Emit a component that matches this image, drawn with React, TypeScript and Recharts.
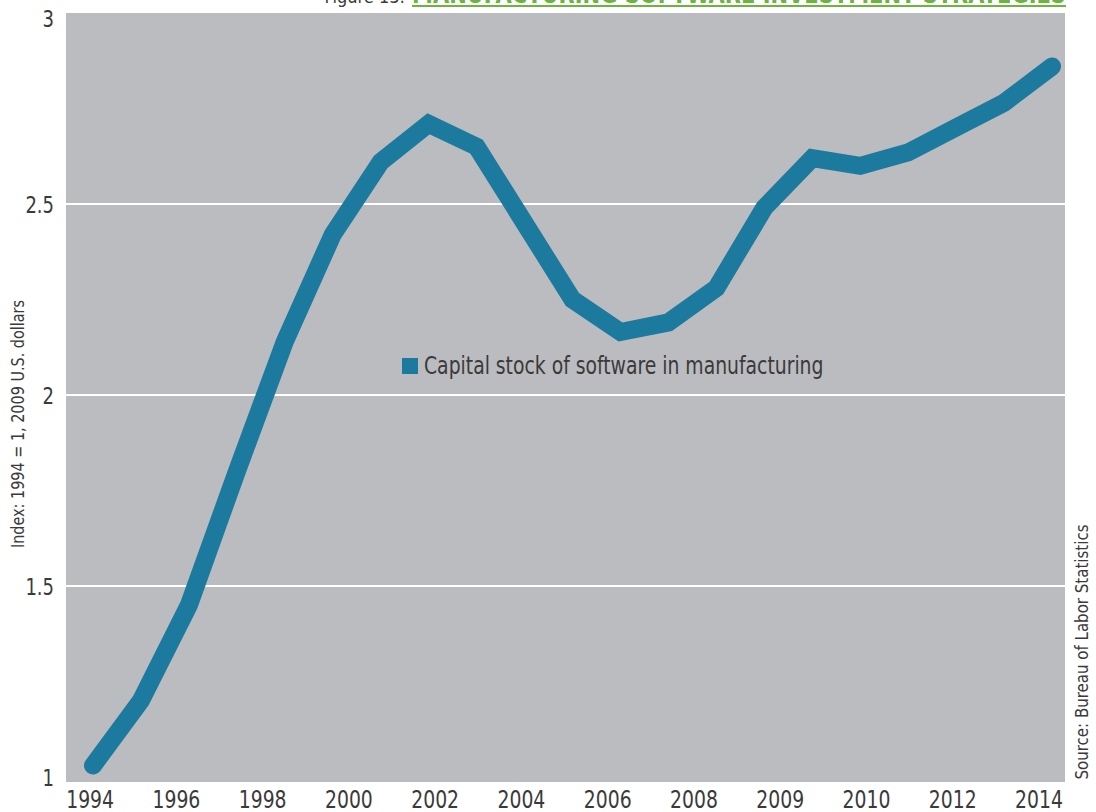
import React from "react";
import {
  LineChart,
  Line,
  XAxis,
  YAxis,
  CartesianGrid,
  Legend,
  Customized,
} from "recharts";

// Capital stock of software in manufacturing, index 1994 = 1
const years = [
  1994, 1995, 1996, 1997, 1998, 1999, 2000, 2001, 2002, 2003, 2004,
  2005, 2006, 2007, 2008, 2009, 2010, 2011, 2012, 2013, 2014,
];
const softwareIndex = [
  1.03, 1.2, 1.45, 1.8, 2.14, 2.42, 2.61, 2.71, 2.65, 2.45, 2.25,
  2.165, 2.19, 2.28, 2.49, 2.62, 2.6, 2.635, 2.7, 2.765, 2.86,
];
// the bottom labels as printed in the original (evenly spaced, not one per year)
const xTickLabels = [
  "1994", "1996", "1998", "2000", "2002", "2004",
  "2006", "2008", "2009", "2010", "2012", "2014",
];
const yTicks = [1, 1.5, 2, 2.5, 3];
const gridValues = [1.5, 2, 2.5];

const seriesName = "Capital stock of software in manufacturing";
const yTitle = "Index: 1994 = 1, 2009 U.S. dollars";
const sourceNote = "Source: Bureau of Labor Statistics";

const data = years.map((year, i) => ({ year, value: softwareIndex[i] }));

// label slots sit on their own even spacing along the year axis
const LABEL_START = 1993.94;
const LABEL_STEP = 1.799;
const labelPositions = xTickLabels.map((_, i) => LABEL_START + i * LABEL_STEP);

const FONT = '"Liberation Sans Narrow", "DejaVu Sans Condensed", sans-serif';
const BLUE = "#1d7a9f";
const TEXT = "#3a3a3a";
const SQUEEZE = 0.87;

const XTick = ({ x, y, payload }: any) => {
  const i = Math.round((payload.value - LABEL_START) / LABEL_STEP);
  return (
    <text
      x={x}
      y={y}
      dy={18}
      textAnchor="middle"
      fontFamily={FONT}
      fontSize={24}
      fill={TEXT}
      transform={`translate(${x} 0) scale(${SQUEEZE} 1) translate(${-x} 0)`}
    >
      {xTickLabels[i]}
    </text>
  );
};

const YTick = ({ x, y, payload }: any) => (
  <text
    x={x}
    y={Math.max(y, 18)}
    dy={9}
    textAnchor="end"
    fontFamily={FONT}
    fontSize={23}
    fill={TEXT}
    transform={`translate(${x} 0) scale(${SQUEEZE} 1) translate(${-x} 0)`}
  >
    {payload.value}
  </text>
);

const LegendBox = () => (
  <div style={{ display: "flex", alignItems: "center", fontFamily: FONT, fontSize: 24, color: TEXT }}>
    <span style={{ width: 16, height: 16, background: BLUE, display: "inline-block", marginRight: 6, flex: "none" }} />
    <span style={{ display: "inline-block", whiteSpace: "nowrap", transform: `scaleX(${SQUEEZE})`, transformOrigin: "left center" }}>
      {seriesName}
    </span>
  </div>
);

const Extras = () => (
  <g fontFamily={FONT}>
    <text x={405} y={3} textAnchor="end" fontSize={18} fill={TEXT}>
      Figure 13:
    </text>
    <text x={412} y={3} fontSize={26} fontWeight="bold" fill="#6cb33f" textLength={654} lengthAdjust="spacingAndGlyphs">
      MANUFACTURING SOFTWARE INVESTMENT STRATEGIES
    </text>
    <rect x={412} y={5} width={654} height={2} fill="#6cb33f" />
    <text
      x={18}
      y={424}
      transform="rotate(-90, 18, 424)"
      textAnchor="middle"
      dominantBaseline="central"
      fontSize={17}
      fill={TEXT}
      textLength={248}
      lengthAdjust="spacingAndGlyphs"
    >
      {yTitle}
    </text>
    <text
      x={1082}
      y={652}
      transform="rotate(-90, 1082, 652)"
      textAnchor="middle"
      dominantBaseline="central"
      fontSize={17}
      fill={TEXT}
      textLength={255}
      lengthAdjust="spacingAndGlyphs"
    >
      {sourceNote}
    </text>
  </g>
);

export default function App() {
  return (
    <div style={{ position: "absolute", left: 0, top: 0, width: 1096, height: 812, background: "#fff" }}>
      <LineChart width={1096} height={812} data={data} margin={{ top: 13, right: 31, bottom: 0, left: 0 }}>
        <CartesianGrid
          fill="#bbbcc0"
          vertical={false}
          horizontalValues={gridValues}
          stroke="#ffffff"
          strokeWidth={2}
          strokeDasharray=""
        />
        <XAxis
          dataKey="year"
          type="number"
          domain={[1993.437, 2014.271]}
          allowDataOverflow
          ticks={labelPositions}
          interval={0}
          axisLine={false}
          tickLine={false}
          tickSize={0}
          tickMargin={8}
          height={30}
          tick={<XTick />}
        />
        <YAxis
          type="number"
          domain={[0.987, 3]}
          allowDataOverflow
          ticks={yTicks}
          interval={0}
          width={66}
          axisLine={false}
          tickLine={false}
          tickSize={0}
          tickMargin={12}
          tick={<YTick />}
        />
        {/* middle/center alignment keeps the legend from reserving space */}
        <Legend
          layout="horizontal"
          verticalAlign="middle"
          align="center"
          content={<LegendBox />}
          wrapperStyle={{ position: "absolute", left: 402, top: 352, width: "auto" }}
        />
        <Line
          type="linear"
          dataKey="value"
          name={seriesName}
          stroke={BLUE}
          strokeWidth={18}
          strokeLinecap="round"
          strokeLinejoin="miter"
          dot={false}
          activeDot={false}
          isAnimationActive={false}
        />
        <Customized component={Extras} />
      </LineChart>
    </div>
  );
}
